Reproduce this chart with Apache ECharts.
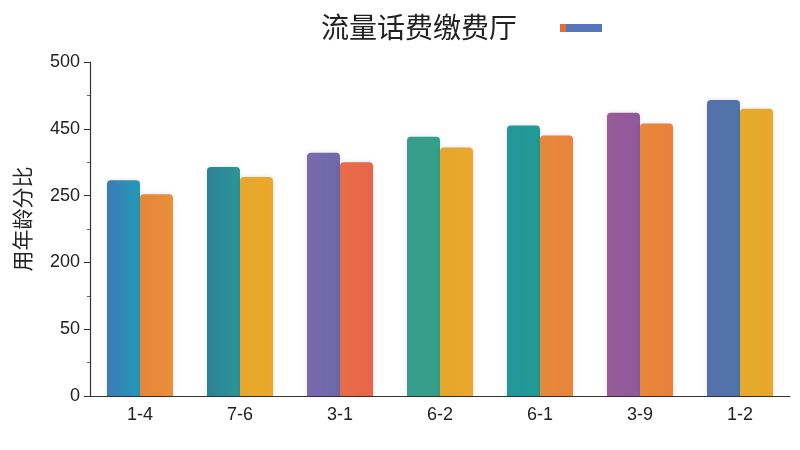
<!DOCTYPE html>
<html><head><meta charset="utf-8">
<script src="https://cdn.jsdelivr.net/npm/echarts@6/dist/echarts.min.js"></script>
<style>html,body{margin:0;padding:0;background:#fff}#c{width:800px;height:450px}</style>
</head><body><div id="c"></div>
<script>
const titleText = '流量话费缴费厅';
const yAxisName = '用年龄分比';
const categories = ['1-4', '7-6', '3-1', '6-2', '6-1', '3-9', '1-2'];
const yTickLabels = ['0', '50', '200', '250', '450', '500'];
const leftValues = [323, 343, 364, 388, 405, 424, 443];
const rightValues = [302, 328, 350, 372, 390, 408, 430];
const leftColors = [['#3a7cb8', '#2399b6'], ['#2f8097', '#2a9696'], ['#7b69ad', '#6c6aa8'], ['#3a9c8c', '#33a08a'], ['#21979c', '#229a94'], ['#9a5a98', '#8e5a9c'], ['#5670ab', '#4f74aa']];
const rightColors = [['#e5853c', '#e9903a'], ['#e5a82c', '#eba82a'], ['#e66e48', '#e8644a'], ['#e6a52c', '#eaa92a'], ['#e5893c', '#e9843a'], ['#e8883a', '#ea7f3a'], ['#e4aa2c', '#e8a82a']];

function grad(c) {
  return new echarts.graphic.LinearGradient(0, 0, 1, 0, [{offset: 0, color: c[0]}, {offset: 1, color: c[1]}]);
}
function items(vals, cols) {
  return vals.map((v, i) => ({value: v, itemStyle: {color: grad(cols[i])}}));
}
const chart = echarts.init(document.getElementById('c'));
chart.setOption({
  animation: false,
  title: {text: titleText, left: 316, top: 8, textStyle: {fontFamily: 'Noto Sans CJK SC', fontSize: 28, fontWeight: 'normal', color: '#222'}},
  legend: {
    data: ['A'], left: 555, top: 19, itemWidth: 42, itemHeight: 8, icon: 'rect',
    formatter: () => '', textStyle: {fontSize: 1}
  },
  grid: {left: 90, right: 10, top: 62, bottom: 54, containLabel: false},
  xAxis: {
    type: 'category', data: categories,
    axisLine: {lineStyle: {color: '#333', width: 1.2}},
    axisTick: {alignWithLabel: false, length: 6, lineStyle: {color: '#333'}},
    axisLabel: {color: '#222', fontSize: 18, margin: 10, fontFamily: 'Liberation Sans'}
  },
  yAxis: {
    type: 'value', min: 0, max: 500, interval: 100,
    name: yAxisName, nameLocation: 'middle', nameGap: 57, nameRotate: 90,
    nameTextStyle: {fontSize: 21, color: '#222', fontFamily: 'Noto Sans CJK SC', padding: [0, 0, 0, 20]},
    axisLine: {show: true, lineStyle: {color: '#333', width: 1.2}},
    axisTick: {show: true, length: 6, lineStyle: {color: '#333'}},
    minorTick: {show: true, splitNumber: 2, length: 3, lineStyle: {color: '#666'}},
    splitLine: {show: false},
    axisLabel: {color: '#222', fontSize: 18, margin: 10, fontFamily: 'Liberation Sans',
      formatter: (v) => yTickLabels[Math.round(v / 100)]}
  },
  series: [
    {name: 'A', type: 'bar', barWidth: 33, barGap: '0%',
     color: new echarts.graphic.LinearGradient(0, 0, 1, 0, [{offset: 0, color: '#e36b3a'}, {offset: 0.14, color: '#e36b3a'}, {offset: 0.15, color: '#5576b8'}, {offset: 1, color: '#5576b8'}]),
     itemStyle: {borderRadius: [4, 4, 0, 0], shadowBlur: 4, shadowColor: 'rgba(0,0,0,0.12)'},
     data: items(leftValues, leftColors)},
    {name: 'B', type: 'bar', barWidth: 33,
     itemStyle: {borderRadius: [4, 4, 0, 0], shadowBlur: 4, shadowColor: 'rgba(0,0,0,0.12)'},
     data: items(rightValues, rightColors)}
  ]
});
</script></body></html>
